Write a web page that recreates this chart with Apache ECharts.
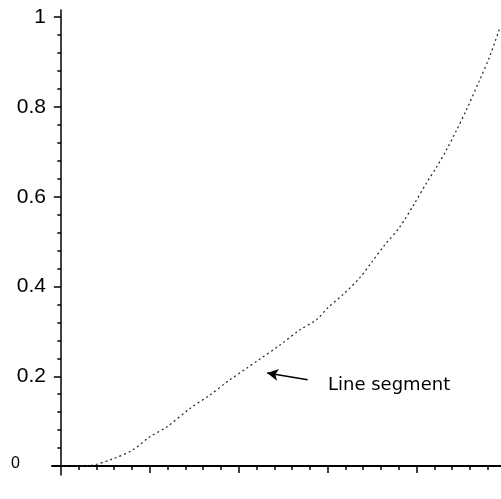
<!DOCTYPE html>
<html>
<head>
<meta charset="utf-8">
<script src="https://cdn.jsdelivr.net/npm/echarts@6/dist/echarts.min.js"></script>
<style>html,body{margin:0;padding:0;background:#fff}#c{width:501px;height:499px}</style>
</head>
<body>
<div id="c"></div>
<script>
// Curve points [x, y]
const curveX = [0, 0.027, 0.065, 0.117, 0.162, 0.2, 0.238, 0.29, 0.335, 0.38, 0.418, 0.447, 0.492, 0.537, 0.575, 0.6, 0.638, 0.672, 0.699, 0.728, 0.762, 0.796, 0.822, 0.845, 0.867, 0.89, 0.912, 0.942, 0.964, 0.987];
const curveY = [0, 0, 0.001, 0.016, 0.036, 0.065, 0.087, 0.128, 0.158, 0.192, 0.218, 0.238, 0.269, 0.303, 0.326, 0.352, 0.385, 0.419, 0.454, 0.492, 0.532, 0.586, 0.630, 0.666, 0.704, 0.748, 0.793, 0.860, 0.911, 0.975];
const yMajor = [0, 0.2, 0.4, 0.6, 0.8, 1];
const yLabels = ['0', '0.2', '0.4', '0.6', '0.8', '1'];
const yMinor = [0.04, 0.08, 0.12, 0.16, 0.24, 0.28, 0.32, 0.36, 0.44, 0.48, 0.52, 0.56, 0.64, 0.68, 0.72, 0.76, 0.84, 0.88, 0.92, 0.96];
const xMajor = [0.2, 0.4, 0.6, 0.8];
const xMinor = [0.04, 0.08, 0.12, 0.16, 0.24, 0.28, 0.32, 0.36, 0.44, 0.48, 0.52, 0.56, 0.64, 0.68, 0.72, 0.76, 0.84, 0.88, 0.92, 0.96];
const annotationText = 'Line segment';
const arrowFrom = [0.555, 0.192];
const arrowTo = [0.464, 0.207];

const data = curveX.map((x, i) => [x, curveY[i]]);
const X_MIN = -0.02, X_MAX = 0.99, Y_MIN = -0.02, Y_MAX = 1.016;
const labelFont = "'Liberation Sans', Arial, sans-serif";

const chart = echarts.init(document.getElementById('c'), null, {renderer: 'canvas'});
chart.setOption({
  animation: false,
  backgroundColor: '#ffffff',
  grid: {left: 52, right: 0, top: 10, bottom: 24, containLabel: false},
  xAxis: [
    {type: 'value', min: X_MIN, max: X_MAX, position: 'bottom',
     axisLine: {show: true, onZero: true, lineStyle: {color: '#000', width: 2}},
     axisTick: {show: true, customValues: xMajor, length: 7, lineStyle: {color: '#000', width: 1.5}},
     axisLabel: {show: false}, splitLine: {show: false}},
    {type: 'value', min: X_MIN, max: X_MAX, position: 'bottom',
     axisLine: {show: false, onZero: true},
     axisTick: {show: true, customValues: xMinor, length: 4, lineStyle: {color: '#000', width: 1.5}},
     axisLabel: {show: false}, splitLine: {show: false}}
  ],
  yAxis: [
    {type: 'value', min: Y_MIN, max: Y_MAX, position: 'left',
     axisLine: {show: true, onZero: true, lineStyle: {color: '#000', width: 1.5}},
     axisTick: {show: true, customValues: yMajor, length: 7, lineStyle: {color: '#000', width: 1.5}},
     axisLabel: {show: true, customValues: yMajor, margin: 6, color: '#000',
       fontFamily: labelFont, fontSize: 21,
       formatter: function (v) { const i = yMajor.indexOf(v); const t = i >= 0 ? yLabels[i] : String(v); return v === 0 ? '{z|' + t + '}' : t; },
       rich: {z: {fontFamily: labelFont, fontSize: 16, color: '#000', padding: [0, 26, 4, 0]}}},
     splitLine: {show: false}},
    {type: 'value', min: Y_MIN, max: Y_MAX, position: 'left',
     axisLine: {show: false, onZero: true},
     axisTick: {show: true, customValues: yMinor, length: 3.5, lineStyle: {color: '#000', width: 1.5}},
     axisLabel: {show: false}, splitLine: {show: false}}
  ],
  series: [{
    type: 'line', xAxisIndex: 0, yAxisIndex: 0, data: data, smooth: 0.3,
    showSymbol: false, symbol: 'none',
    lineStyle: {color: '#222', width: 1.2, type: [2, 3]},
    markLine: {
      silent: true, symbol: ['none', 'arrow'], symbolSize: [9, 11],
      lineStyle: {color: '#000', width: 1.5, type: 'solid'},
      label: {show: false},
      data: [[{coord: arrowFrom}, {coord: arrowTo}]]
    }
  }],
  graphic: [{
    type: 'text', left: 328, top: 376,
    style: {text: annotationText, fill: '#000', font: "18px 'DejaVu Sans', sans-serif"}
  }]
});
</script>
</body>
</html>
